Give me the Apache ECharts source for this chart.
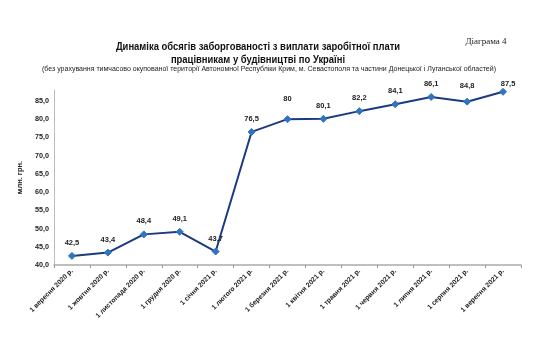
<!DOCTYPE html>
<html><head><meta charset="utf-8">
<script src="https://cdn.jsdelivr.net/npm/echarts@6/dist/echarts.min.js"></script>
<style>html,body{margin:0;padding:0;background:#fff}#c{width:540px;height:360px}</style>
</head><body><div id="c"></div>
<script>
const categories = ['1 вересня 2020 р.','1 жовтня 2020 р.','1 листопада 2020 р.','1 грудня 2020 р.','1 січня 2021 р.','1 лютого 2021 р.','1 березня 2021 р.','1 квітня 2021 р.','1 травня 2021 р.','1 червня 2021 р.','1 липня 2021 р.','1 серпня 2021 р.','1 вересня 2021 р.'];
const values = [42.5, 43.4, 48.4, 49.1, 43.7, 76.5, 80, 80.1, 82.2, 84.1, 86.1, 84.8, 87.5];
const titleLine1 = 'Динаміка обсягів заборгованості з виплати заробітної плати';
const titleLine2 = 'працівникам у будівництві по Україні';
const subtitle = '(без урахування тимчасово окупованої території Автономної Республіки Крим, м. Севастополя та частини Донецької і Луганської областей)';
const diagramLabel = 'Діаграма 4';
const yName = 'млн. грн.';

const font = 'Liberation Sans, Arial, sans-serif';
// label nudges (index -> [dx, dy]) mimicking the hand-placed labels
const labelNudge = {6: [0, -7], 11: [0, -3], 12: [5, 5]};
const seriesData = values.map((v, i) => labelNudge[i] ? {value: v, label: {offset: labelNudge[i]}} : v);

const chart = echarts.init(document.getElementById('c'));
chart.setOption({
  animation: false,
  graphic: [
    {type:'text', x: 258, y: 47, scaleX: 0.82, style:{text: titleLine1, align:'center', verticalAlign:'middle', font: 'bold 11.5px ' + font, fill:'#111'}},
    {type:'text', x: 258, y: 60, scaleX: 0.82, style:{text: titleLine2, align:'center', verticalAlign:'middle', font: 'bold 11.5px ' + font, fill:'#111'}},
    {type:'text', x: 269, y: 69.5, style:{text: subtitle, align:'center', verticalAlign:'middle', font: '7px ' + font, fill:'#222'}},
    {type:'text', x: 486, y: 42, style:{text: diagramLabel, align:'center', verticalAlign:'middle', font: '9px Liberation Serif, serif', fill:'#222'}}
  ],
  grid: {left: 54, right: 19, top: 90, bottom: 95},
  xAxis: {
    type: 'category', data: categories, boundaryGap: true,
    axisLine: {lineStyle: {color: '#aaa', width: 1.5}},
    axisTick: {show: true, alignWithLabel: false, length: 3, lineStyle:{color:'#999'}},
    axisLabel: {rotate: 45, interval: 0, fontSize: 6.8, fontWeight: 'bold', color: '#222', fontFamily: font, margin: 5}
  },
  yAxis: {
    type: 'value', min: 40, max: 88, interval: 5,
    name: yName, nameLocation: 'middle', nameGap: 28, nameRotate: 90,
    nameTextStyle: {fontSize: 7.5, fontWeight: 'bold', color: '#222', fontFamily: font},
    axisLine: {show: true, lineStyle: {color: '#bbb'}},
    axisTick: {show: false},
    splitLine: {show: false},
    axisLabel: {showMaxLabel: false, fontSize: 7.2, fontWeight: 'bold', color: '#222', fontFamily: font, margin: 5,
      formatter: v => v.toFixed(1).replace('.', ',')}
  },
  series: [{
    type: 'line', data: seriesData,
    lineStyle: {color: '#1b3a80', width: 2},
    symbol: 'diamond', symbolSize: 7,
    itemStyle: {color: '#2f74c0', borderColor: '#2f74c0'},
    label: {show: true, position: 'top', distance: 5, fontSize: 7.5, fontWeight: 'bold', color: '#222', fontFamily: font,
      formatter: p => String(p.value).replace('.', ',')}
  }]
});
</script></body></html>
